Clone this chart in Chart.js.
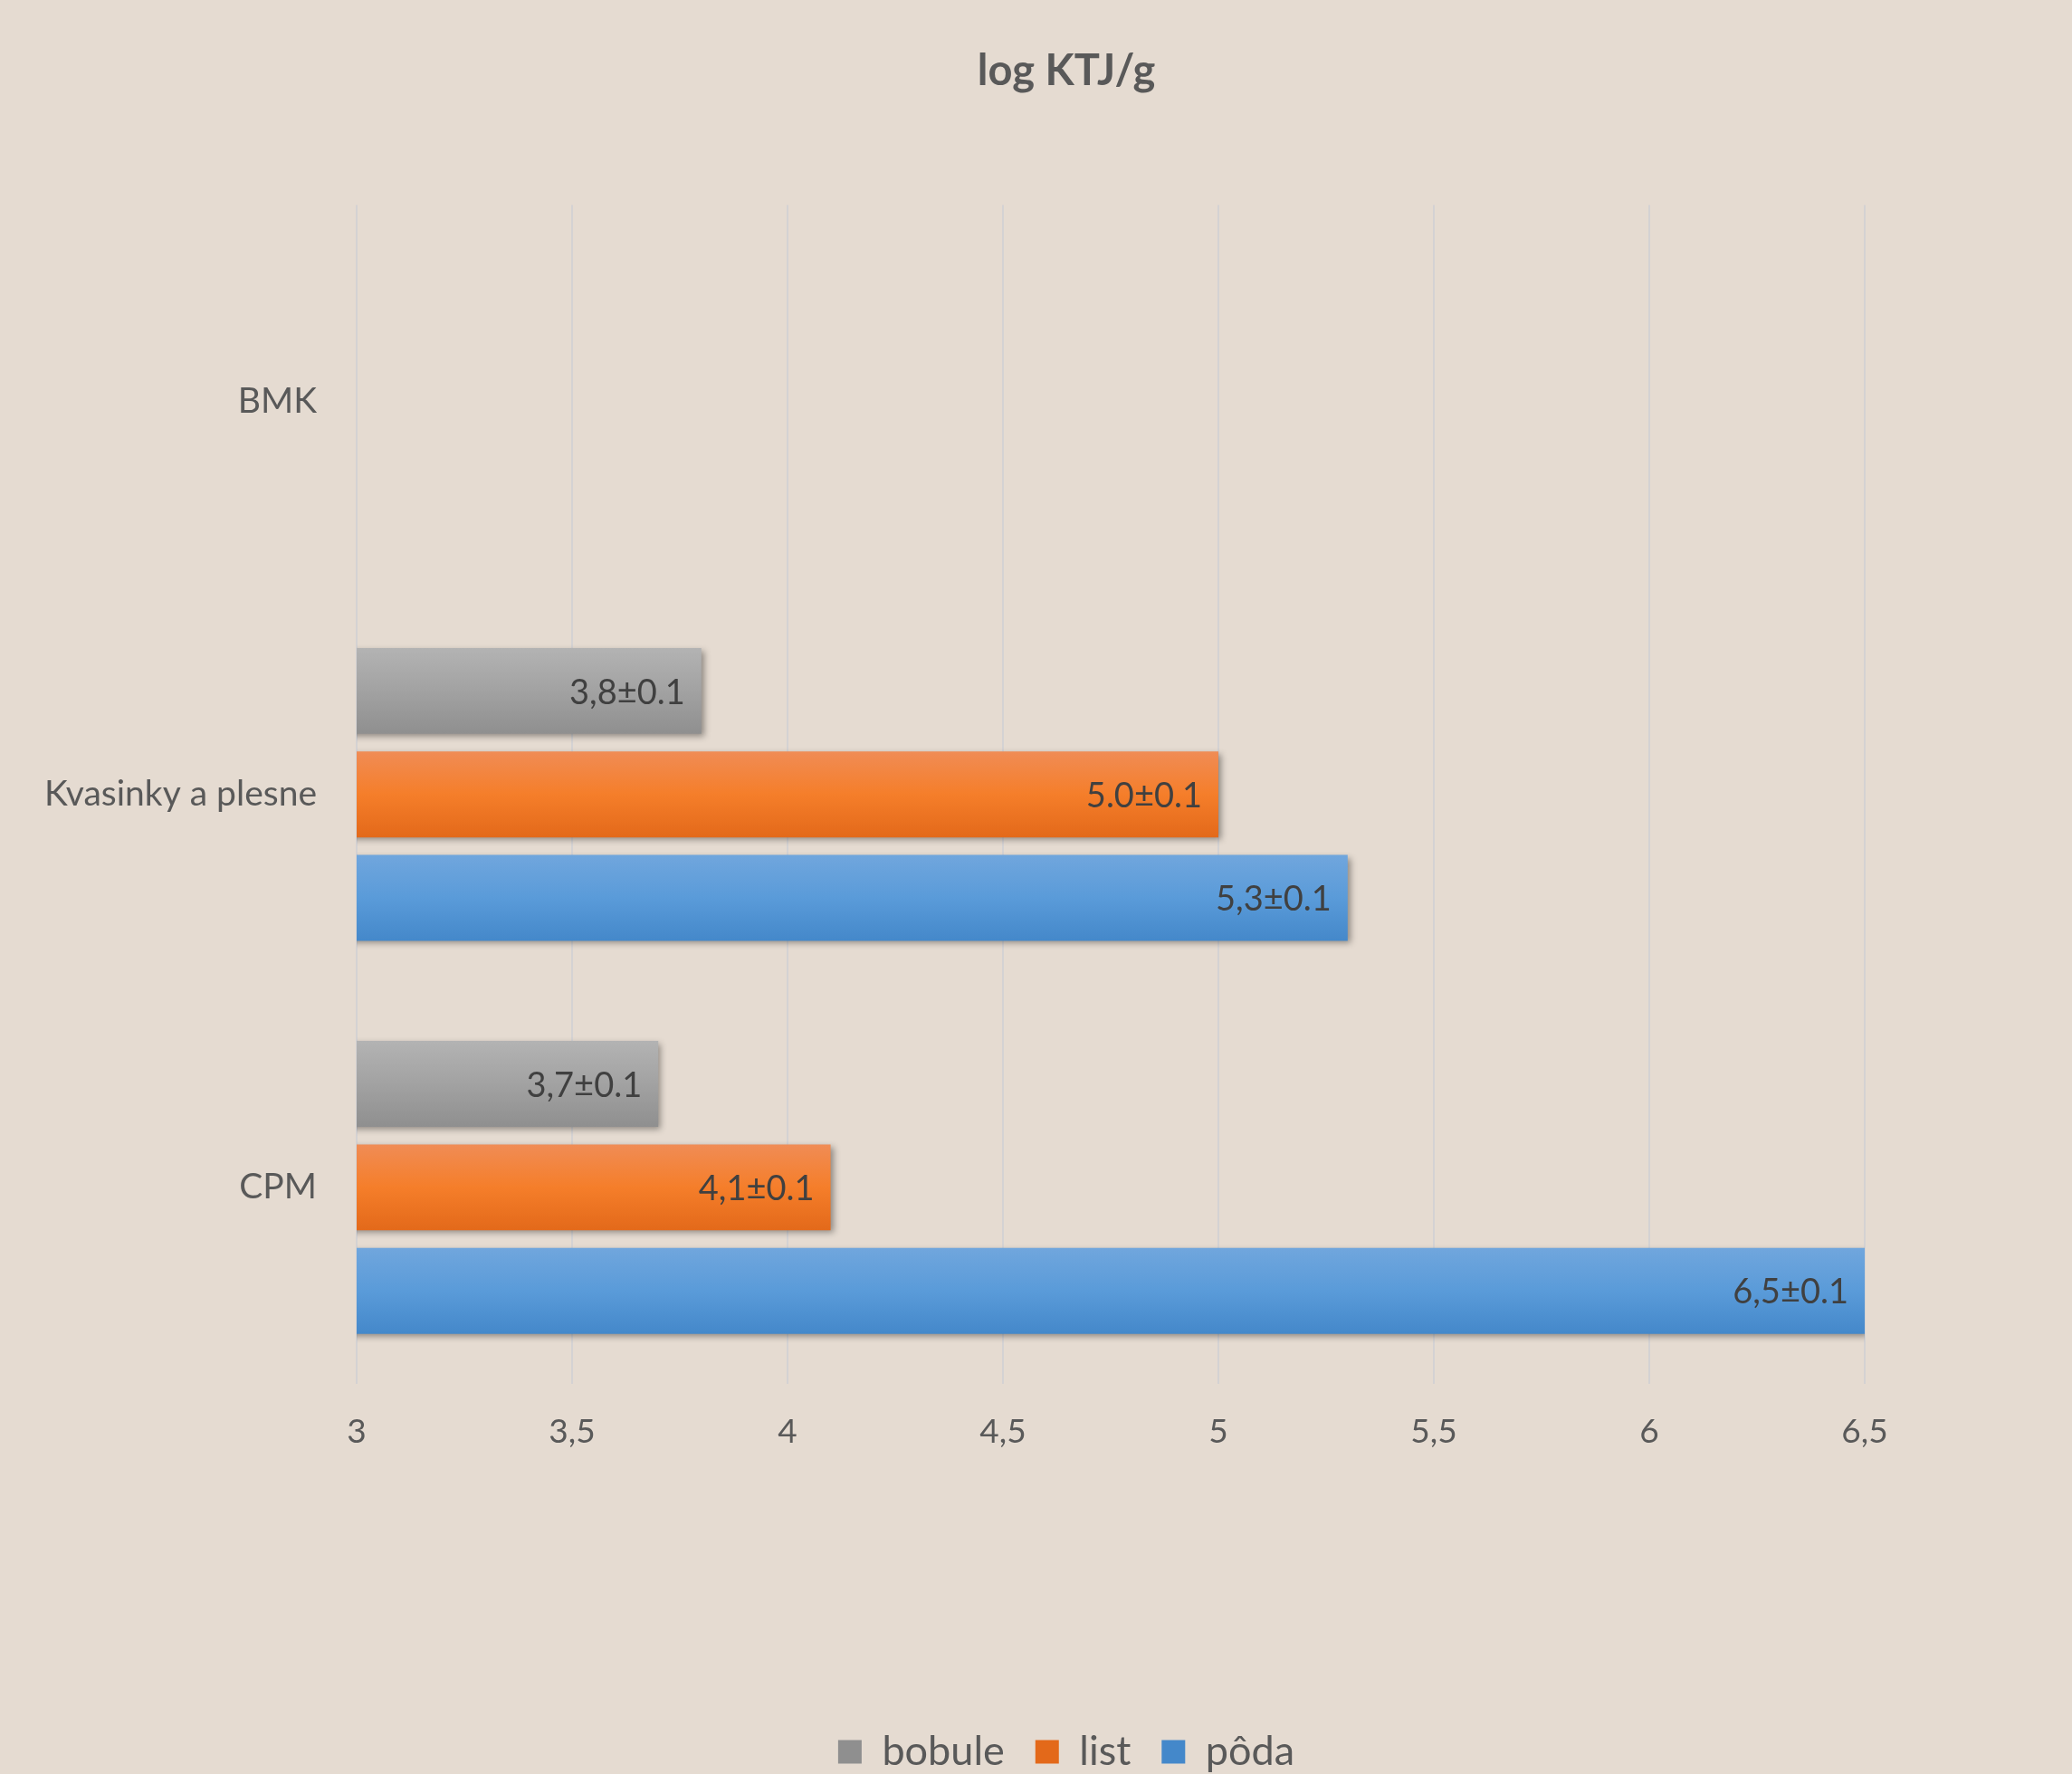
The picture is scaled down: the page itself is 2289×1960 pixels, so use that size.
<!DOCTYPE html>
<html>
<head>
<meta charset="utf-8">
<script src="https://cdn.jsdelivr.net/npm/chart.js@4.4.0/dist/chart.umd.min.js"></script>
<style>
  html, body { margin: 0; padding: 0; background: #e5dbd1; }
  #wrap { width: 2289px; height: 1960px; }
</style>
</head>
<body>
<div id="wrap"><canvas id="chart" width="2289" height="1960"></canvas></div>
<script>
// Horizontal grouped bars — log KTJ/g per sample type, three categories.
const CATEGORIES = ["BMK", "Kvasinky a plesne", "CPM"];
const SERIES_NAMES = ["bobule", "list", "pôda"];

const BOBULE = [0, 3.8, 3.7];
const LIST = [0, 5.0, 4.1];
const PODA = [0, 5.3, 6.5];

// value labels exactly as printed on the bars
const BOBULE_LABELS = ["", "3,8±0.1", "3,7±0.1"];
const LIST_LABELS = ["", "5.0±0.1", "4,1±0.1"];
const PODA_LABELS = ["", "5,3±0.1", "6,5±0.1"];

const X_MIN = 3;
const X_MAX = 6.5;
const X_STEP = 0.5;

const TEXT = "#595959";
const FONT = "Lato, 'Open Sans', sans-serif";

// vertical gradient per bar, computed from the element's own box
function barFill(stops, fallback) {
  return (ctx) => {
    const bar = ctx.element;
    if (!bar || !bar.height || !isFinite(bar.y)) return fallback;
    const top = bar.y - bar.height / 2;
    const g = ctx.chart.ctx.createLinearGradient(0, top, 0, top + bar.height);
    stops.forEach((c, i) => g.addColorStop(i / (stops.length - 1), c));
    return g;
  };
}

const barShadow = {
  id: "barShadow",
  beforeDatasetsDraw(chart) {
    const c = chart.ctx;
    c.save();
    c.shadowColor = "rgba(0,0,0,0.38)";
    c.shadowBlur = 7;
    c.shadowOffsetX = 3;
    c.shadowOffsetY = 3;
  },
  afterDatasetsDraw(chart) {
    chart.ctx.restore();
  },
};

const LABELS_BY_SET = [BOBULE_LABELS, LIST_LABELS, PODA_LABELS];

const barLabels = {
  id: "barLabels",
  afterDatasetsDraw(chart) {
    const c = chart.ctx;
    c.save();
    c.font = `38px ${FONT}`;
    c.fillStyle = "#404040";
    c.textAlign = "right";
    c.textBaseline = "middle";
    chart.data.datasets.forEach((ds, di) => {
      chart.getDatasetMeta(di).data.forEach((bar, i) => {
        const txt = LABELS_BY_SET[di][i];
        if (!txt) return;
        c.fillText(txt, bar.x - 18, bar.y + 2);
      });
    });
    c.restore();
  },
};

// the left padding only serves to centre title/legend like the original;
// widen the y axis box back to the edge so its labels aren't clipped,
// and nudge the legend row down to the canvas bottom
const layoutTweaks = {
  id: "layoutTweaks",
  afterLayout(chart) {
    chart.scales.y.left = 0;
    chart.legend.top += 8;
    chart.legend.bottom += 8;
  },
};

const chart = new Chart(document.getElementById("chart"), {
  type: "bar",
  data: {
    labels: CATEGORIES,
    datasets: [
      {
        label: SERIES_NAMES[0],
        data: BOBULE,
        backgroundColor: barFill(["#b3b3b3", "#a2a2a2", "#8f8f8f"], "#a5a5a5"),
      },
      {
        label: SERIES_NAMES[1],
        data: LIST,
        backgroundColor: barFill(["#f08c55", "#f57e2a", "#e3691a"], "#ed7d31"),
      },
      {
        label: SERIES_NAMES[2],
        data: PODA,
        backgroundColor: barFill(["#70a6dd", "#5a9bd9", "#4488ca"], "#5b9bd5"),
      },
    ],
  },
  options: {
    indexAxis: "y",
    responsive: false,
    animation: false,
    devicePixelRatio: 1,
    categoryPercentage: 0.79,
    barPercentage: 0.83,
    layout: { padding: { left: 296, right: 229, top: 0, bottom: 0 } },
    plugins: {
      title: {
        display: true,
        text: "log KTJ/g",
        color: TEXT,
        font: { family: FONT, size: 47, weight: "bold" },
        padding: { top: 51, bottom: 119 },
      },
      legend: {
        position: "bottom",
        labels: {
          color: TEXT,
          font: { family: FONT, size: 45 },
          boxWidth: 26,
          boxHeight: 26,
          padding: 34,
        },
      },
      tooltip: { enabled: false },
    },
    scales: {
      x: {
        min: X_MIN,
        max: X_MAX,
        ticks: {
          stepSize: X_STEP,
          color: TEXT,
          font: { family: FONT, size: 37 },
          padding: 31,
          callback: (v) => String(v).replace(".", ","),
        },
        grid: { color: "#d4d2d3", lineWidth: 2, drawTicks: false },
        border: { display: false },
        afterFit: (scale) => { scale.height = 342; },
      },
      y: {
        ticks: {
          color: TEXT,
          font: { family: FONT, size: 39 },
          padding: 44,
        },
        grid: { display: false, drawTicks: false },
        border: { display: false },
        afterFit: (scale) => { scale.width = 98; },
      },
    },
  },
  plugins: [barShadow, barLabels, layoutTweaks],
});

// second pass so the gradients see the laid-out bar boxes
chart.update("none");
</script>
</body>
</html>
